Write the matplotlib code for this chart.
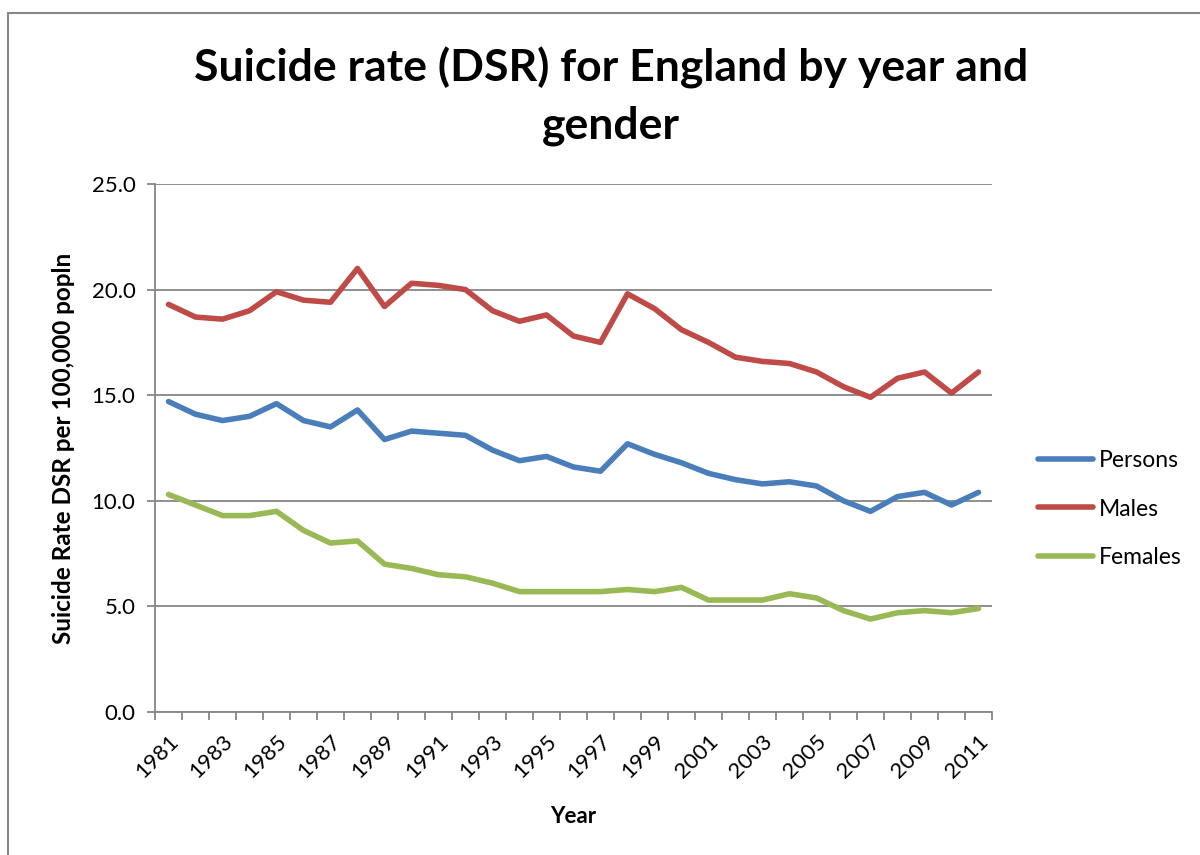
import matplotlib
matplotlib.use("Agg")
import matplotlib.pyplot as plt
from matplotlib.patches import Rectangle
import matplotlib.transforms as mtransforms
import numpy as np

years = list(range(1981, 2012))
persons = [14.7, 14.1, 13.8, 14.0, 14.6, 13.8, 13.5, 14.3, 12.9, 13.3, 13.2, 13.1, 12.4, 11.9, 12.1,
           11.6, 11.4, 12.7, 12.2, 11.8, 11.3, 11.0, 10.8, 10.9, 10.7, 10.0, 9.5, 10.2, 10.4, 9.8, 10.4]
males = [19.3, 18.7, 18.6, 19.0, 19.9, 19.5, 19.4, 21.0, 19.2, 20.3, 20.2, 20.0, 19.0, 18.5, 18.8,
         17.8, 17.5, 19.8, 19.1, 18.1, 17.5, 16.8, 16.6, 16.5, 16.1, 15.4, 14.9, 15.8, 16.1, 15.1, 16.1]
females = [10.3, 9.8, 9.3, 9.3, 9.5, 8.6, 8.0, 8.1, 7.0, 6.8, 6.5, 6.4, 6.1, 5.7, 5.7,
           5.7, 5.7, 5.8, 5.7, 5.9, 5.3, 5.3, 5.3, 5.6, 5.4, 4.8, 4.4, 4.7, 4.8, 4.7, 4.9]
series_names = ["Persons", "Males", "Females"]
colors = ["#4A7EBB", "#BE4B48", "#98B954"]
yticks = [0, 5, 10, 15, 20, 25]

plt.rcParams['font.family'] = ['Lato', 'DejaVu Sans']

W, H = 1200, 855
fig = plt.figure(figsize=(12, 8.55), dpi=100)
fig.patches.append(Rectangle((8/W, -0.1), 1.2, (H-13)/H + 0.1, transform=fig.transFigure,
                             fill=False, edgecolor="#888888", linewidth=1.5))
ax = fig.add_axes([155/W, 143/H, 837/W, 528/H])

x = np.arange(len(years))
for vals, name, c in zip([persons, males, females], series_names, colors):
    ax.plot(x, vals, color=c, linewidth=4.0, label=name, solid_capstyle='round', solid_joinstyle='round')

ax.set_xlim(-0.5, len(years) - 0.5)
ax.set_ylim(0, 25)
ax.set_yticks(yticks)
ax.set_yticklabels([f"{v:.1f}" for v in yticks], fontsize=16)
ax.yaxis.grid(True, color="#868686", linewidth=1.3)
ax.set_axisbelow(True)

ax.set_xticks(x[::2])
ax.set_xticklabels([str(y) for y in years[::2]], rotation=45, ha='right', va='top',
                   rotation_mode='anchor', fontsize=16)
offset = mtransforms.ScaledTranslation(6/100, 0, fig.dpi_scale_trans)
for lbl in ax.get_xticklabels():
    lbl.set_transform(lbl.get_transform() + offset)
ax.set_xticks(np.arange(-0.5, len(years), 1.0), minor=True)
ax.tick_params(axis='x', which='major', length=0, pad=14)
ax.tick_params(axis='x', which='minor', length=6, color="#868686", width=1.3)
ax.tick_params(axis='y', length=6, color="#868686", width=1.3, pad=8)

for s in ['top', 'right']:
    ax.spines[s].set_visible(False)
for s in ['left', 'bottom']:
    ax.spines[s].set_color("#868686")
    ax.spines[s].set_linewidth(1.3)

ax.set_xlabel("Year", fontsize=16, fontweight='bold', labelpad=17)
ax.set_ylabel("Suicide Rate DSR per 100,000 popln", fontsize=17.5, fontweight='bold', labelpad=12)

fig.text(611/W, 1 - 96/H, "Suicide rate (DSR) for England by year and\ngender",
         ha='center', va='center', fontsize=32, fontweight='bold', linespacing=1.5)

handles, labels = ax.get_legend_handles_labels()
leg = fig.legend(handles, labels, loc='center left', bbox_to_anchor=(1038/W, 1 - 509/H),
                 bbox_transform=fig.transFigure, frameon=False, fontsize=16.5,
                 handlelength=2.4, labelspacing=1.2, handletextpad=0.25,
                 borderaxespad=0, borderpad=0)

fig.savefig("out.png", dpi=100)
